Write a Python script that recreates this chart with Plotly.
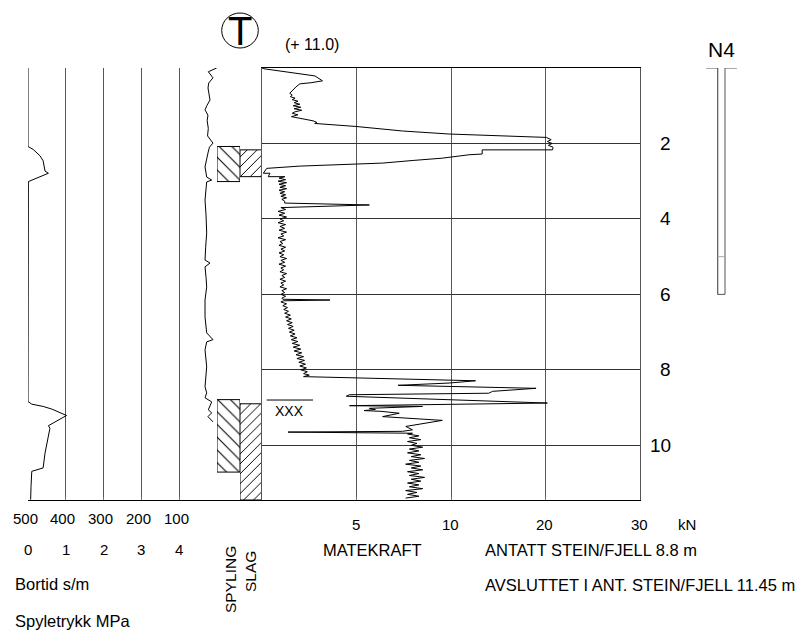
import numpy as np
import plotly.graph_objects as go

# ---------------- data ----------------
# Main curve: matekraft (kN) vs depth (m)
main_depth = [0.00, 0.02, 0.21, 0.34, 0.39, 0.42, 0.50, 0.58, 0.67, 0.72, 0.76, 0.80, 0.84, 0.88, 0.92, 0.96,
              1.00, 1.04, 1.08, 1.12, 1.16, 1.20, 1.24, 1.29, 1.40, 1.44, 1.47, 1.55, 1.67, 1.75, 1.84, 1.90,
              1.95, 2.00, 2.05, 2.10, 2.17, 2.17, 2.28, 2.30, 2.39, 2.45, 2.52, 2.60, 2.66, 2.79, 2.79, 2.88,
              2.88, 2.92, 2.96, 3.00, 3.04, 3.08, 3.12, 3.16, 3.20, 3.24, 3.28, 3.32, 3.36, 3.40, 3.44, 3.48,
              3.53, 3.58, 3.63, 3.70,
              3.75, 3.80, 3.85, 3.90, 3.95, 4.00, 4.05, 4.10, 4.15, 4.20, 4.25, 4.30, 4.35, 4.40, 4.45, 4.50,
              4.55, 4.60, 4.65, 4.70, 4.75, 4.80, 4.85, 4.90, 4.95, 5.00, 5.05, 5.10, 5.15, 5.20, 5.25, 5.30,
              5.35, 5.40, 5.45, 5.50, 5.55, 5.60, 5.65, 5.70, 5.75, 5.80, 5.85, 5.90, 5.95, 6.00, 6.05, 6.10,
              6.13, 6.15, 6.17,
              6.20, 6.25, 6.30, 6.35, 6.40, 6.45, 6.50, 6.55, 6.60, 6.65, 6.70, 6.75, 6.80, 6.85, 6.90, 6.95,
              7.00, 7.05, 7.10, 7.15, 7.20, 7.25, 7.30, 7.35, 7.40, 7.45, 7.50, 7.55, 7.60, 7.65, 7.70, 7.75,
              7.80, 7.85, 7.90, 7.95, 8.00, 8.05, 8.10,
              8.14, 8.18, 8.29, 8.35, 8.41, 8.49, 8.57, 8.62, 8.66, 8.70, 8.88, 8.95, 8.97, 9.02, 9.05, 9.08,
              9.10, 9.15, 9.24, 9.34, 9.50, 9.59, 9.63, 9.65, 9.68,
              9.70, 9.75, 9.80, 9.85, 9.90, 9.95, 10.00, 10.05, 10.10, 10.15, 10.20, 10.25, 10.30, 10.35,
              10.40, 10.45, 10.50, 10.55, 10.60, 10.65, 10.70, 10.75, 10.80, 10.85, 10.90, 10.95, 11.00,
              11.05, 11.10, 11.15, 11.20, 11.25, 11.30, 11.35, 11.40]
main_kn = [0.0, 0.1, 2.8, 3.2, 2.6, 2.0, 1.8, 1.65, 1.47, 1.6, 1.5, 1.75, 1.6, 1.9, 1.7, 2.0,
           1.65, 2.05, 1.7, 2.1, 1.75, 1.6, 1.9, 1.56, 2.7, 2.9, 2.79, 4.98, 7.44, 9.9, 20.1, 20.6,
           20.2, 20.7, 20.3, 20.8, 20.75, 13.3, 13.3, 11.9, 9.54, 8.0, 6.38, 2.0, 0.25, 0.07, 0.42, 0.33,
           1.21, 0.9, 1.25, 0.85, 1.3, 0.9, 1.25, 0.95, 1.3, 0.9, 1.2, 0.95, 1.25, 1.0, 1.3, 1.05,
           1.2, 1.2, 5.68, 1.0,
           1.25, 0.85, 1.2, 0.9, 1.3, 0.95, 1.15, 0.85, 1.25, 0.95, 1.2, 0.9, 1.3, 1.0, 1.15, 0.85,
           1.25, 0.95, 1.1, 0.9, 1.25, 1.0, 1.2, 0.9, 1.15, 0.95, 1.3, 1.0, 1.2, 0.9, 1.25, 1.0,
           1.15, 0.95, 1.3, 1.05, 1.2, 0.95, 1.25, 1.0, 1.15, 0.95, 1.3, 1.05, 1.2, 1.0, 1.25, 1.05,
           1.1, 3.6, 1.15,
           1.0, 1.3, 1.1, 1.35, 1.15, 1.4, 1.2, 1.5, 1.25, 1.55, 1.3, 1.6, 1.35, 1.65, 1.4, 1.7,
           1.45, 1.75, 1.5, 1.85, 1.55, 1.9, 1.6, 2.0, 1.65, 2.05, 1.7, 2.1, 1.8, 2.2, 1.85, 2.25,
           1.95, 2.3, 2.0, 2.35, 2.05, 2.4, 2.2,
           2.5, 2.2, 12.6, 9.9, 7.2, 19.0, 14.4, 14.0, 4.63, 4.46, 20.2, 4.63, 8.49, 5.68, 6.0, 5.4,
           6.3, 7.26, 6.38, 9.54, 7.61, 7.96, 7.44, 1.38, 7.96,
           7.7, 8.3, 7.8, 8.4, 7.7, 8.2, 7.9, 8.5, 7.8, 8.3, 7.7, 8.4, 7.9, 8.6,
           7.8, 8.3, 7.6, 8.4, 7.9, 8.5, 7.7, 8.3, 7.8, 8.6, 7.9, 8.4, 7.7,
           8.3, 7.8, 8.5, 7.6, 8.2, 7.7, 8.3, 7.6]

# Bortid (s/m) vs depth
bortid_depth = [0.00, 0.10, 0.26, 0.40, 0.53, 0.70, 0.85, 1.00, 1.11, 1.25, 1.40, 1.60, 1.80, 1.99, 2.10,
                2.25, 2.45, 2.62, 2.89, 2.97, 3.02, 3.50, 3.90, 4.37, 4.75, 5.09, 5.17, 5.27, 5.55, 5.80,
                6.15, 6.60, 7.02, 7.20, 7.26, 7.47, 7.92, 8.20, 8.45, 8.61, 8.74, 8.85, 9.06, 9.14, 9.24, 9.38]
bortid_val = [0.8, 23.0, 10.6, 22.0, 23.8, 20.0, 18.5, 27.0, 31.7, 24.0, 26.0, 23.0, 25.0, 10.6, 20.0,
              23.8, 28.0, 31.7, 27.3, 14.0, 27.3, 31.7, 29.0, 27.3, 30.0, 31.7, 18.5, 31.7, 29.0, 27.3,
              31.7, 31.7, 27.3, 10.6, 27.3, 31.7, 27.3, 29.0, 31.7, 27.3, 31.7, 14.0, 23.0, 14.0, 23.8, 10.6]

# Spyletrykk (MPa) vs depth
spyle_depth = [0.00, 2.08, 2.16, 2.33, 2.46, 2.73, 2.79, 3.01, 8.84, 8.91, 8.97, 9.04, 9.21, 9.48, 9.55,
               9.77, 10.21, 10.60, 10.69, 11.09, 11.44]
spyle_val = [0.0, 0.0, 0.14, 0.32, 0.40, 0.45, 0.54, 0.01, 0.0, 0.10, 0.40, 0.63, 1.02, 0.54, 0.58,
             0.54, 0.45, 0.40, 0.10, 0.08, 0.07]

# Spyling / slag intervals (m)
spyling_intervals = [(2.08, 3.01), (8.79, 10.71)]
slag_intervals = [(2.17, 2.88), (8.90, 11.45)]

total_depth = 11.45
rock_depth = 8.8
casing_depth = 6.0
casing_joint = 5.0

depth_ticks = [2, 4, 6, 8, 10]
kn_ticks = [5, 10, 20, 30]
kn_scale = [0, 5, 10, 20, 30]
bortid_ticks = [500, 400, 300, 200, 100]
spyle_ticks = [0, 1, 2, 3, 4]

# ---------------- helpers ----------------
W, H = 803, 635
def px(x):
    return x / W
def py(y):
    return 1 - y / H

FONT = "Liberation Sans, Arial, sans-serif"
GRID = "#555555"

def kn_to_axis(v):
    return np.interp(v, kn_scale, list(range(len(kn_scale))))

ydom = [py(500), py(68)]

fig = go.Figure()

# left panel curves
fig.add_trace(go.Scatter(x=[5 - b / 100 for b in bortid_val], y=bortid_depth, mode="lines",
                         line=dict(color="black", width=1), xaxis="x", yaxis="y"))
fig.add_trace(go.Scatter(x=spyle_val, y=spyle_depth, mode="lines",
                         line=dict(color="black", width=1), xaxis="x", yaxis="y"))

# hatched spyling / slag
for d0, d1 in spyling_intervals:
    fig.add_trace(go.Scatter(x=[0, 1, 1, 0, 0], y=[d0, d0, d1, d1, d0], mode="lines", fill="toself",
                             fillcolor="white",
                             fillpattern=dict(shape="\\", fgcolor="black", bgcolor="white", size=9,
                                              solidity=0.12, fgopacity=1),
                             line=dict(color="black", width=1), xaxis="x2", yaxis="y2"))
for d0, d1 in slag_intervals:
    fig.add_trace(go.Scatter(x=[0, 1, 1, 0, 0], y=[d0, d0, d1, d1, d0], mode="lines", fill="toself",
                             fillcolor="white",
                             fillpattern=dict(shape="/", fgcolor="black", bgcolor="white", size=7,
                                              solidity=0.14, fgopacity=1),
                             line=dict(color="black", width=1), xaxis="x3", yaxis="y3"))

# main curve
fig.add_trace(go.Scatter(x=kn_to_axis(main_kn), y=main_depth, mode="lines",
                         line=dict(color="black", width=1), xaxis="x4", yaxis="y4"))

hidden_y = dict(domain=ydom, range=[total_depth, 0], showgrid=False, showline=False,
                showticklabels=False, zeroline=False, ticks="")
fig.update_layout(
    width=W, height=H, margin=dict(l=0, r=0, t=0, b=0),
    paper_bgcolor="white", plot_bgcolor="rgba(0,0,0,0)", showlegend=False,
    xaxis=dict(domain=[px(28), px(217)], range=[0, 5], tickvals=[0, 1, 2, 3, 4, 5], showgrid=True,
               gridcolor=GRID, gridwidth=1, showline=True, linecolor="black", linewidth=1,
               showticklabels=False, zeroline=False, ticks="inside", ticklen=3, tickcolor="#777", anchor="y"),
    yaxis=dict(**hidden_y, anchor="x"),
    xaxis2=dict(domain=[px(217), px(240)], range=[0, 1], tickvals=[0, 1], showgrid=True, gridcolor=GRID,
                showline=True, linecolor="black", showticklabels=False, zeroline=False, ticks="", anchor="y2"),
    yaxis2=dict(**hidden_y, anchor="x2", matches="y"),
    xaxis3=dict(domain=[px(240), px(262)], range=[0, 1], tickvals=[0, 1], showgrid=True, gridcolor=GRID,
                showline=True, linecolor="black", showticklabels=False, zeroline=False, ticks="", anchor="y3"),
    yaxis3=dict(**hidden_y, anchor="x3", matches="y"),
    xaxis4=dict(domain=[px(262), px(640)], range=[0, 4], tickvals=[0, 1, 2, 3, 4], showgrid=True,
                gridcolor=GRID, gridwidth=1, showline=True, mirror=True, linecolor="black",
                showticklabels=False, zeroline=False, ticks="inside", ticklen=3, tickcolor="#777", anchor="y4"),
    yaxis4=dict(domain=ydom, range=[total_depth, 0], tickvals=depth_ticks, showgrid=True, gridcolor="#333333",
                gridwidth=1, showline=True, mirror=True, linecolor=GRID, showticklabels=False,
                zeroline=False, ticks="", anchor="x4", matches="y"),
)

shapes = []
# casing symbol N4
cl, cr = px(717.7), px(725)
shapes += [
    dict(type="line", xref="paper", yref="y4", x0=px(706), x1=cl, y0=0, y1=0, line=dict(color="#555", width=1)),
    dict(type="line", xref="paper", yref="y4", x0=cr, x1=px(737), y0=0, y1=0, line=dict(color="#555", width=1)),
    dict(type="line", xref="paper", yref="y4", x0=cl, x1=cl, y0=0, y1=casing_depth, line=dict(color="#555", width=1.2)),
    dict(type="line", xref="paper", yref="y4", x0=cr, x1=cr, y0=0, y1=casing_depth, line=dict(color="#555", width=1)),
    dict(type="line", xref="paper", yref="y4", x0=cl, x1=cr, y0=casing_depth, y1=casing_depth, line=dict(color="#555", width=1)),
    dict(type="line", xref="paper", yref="y4", x0=cl, x1=cr, y0=casing_joint, y1=casing_joint, line=dict(color="#aaa", width=1)),
]
# rock marker line
shapes.append(dict(type="line", xref="x4", yref="y4", x0=0.05, x1=0.54, y0=rock_depth, y1=rock_depth,
                   line=dict(color="black", width=1)))
# T circle
shapes.append(dict(type="circle", xref="paper", yref="paper", x0=px(221.7), x1=px(258.3), y0=py(48), y1=py(13),
                   line=dict(color="black", width=1)))
fig.update_layout(shapes=shapes)

ann = []
def txt(text, x, y, size=16.5, xanchor="center", xref="paper", yref="paper", **kw):
    ann.append(dict(text=text, x=x, y=y, xref=xref, yref=yref, showarrow=False, xanchor=xanchor,
                    yanchor="middle", font=dict(family=FONT, size=size, color="black"), **kw))

txt("T", px(240), py(31), size=40)
txt("(+ 11.0)", px(312), py(45), size=16)
txt("N4", px(721.5), py(49), size=21)
txt("XXX", 0.29, 9.1, size=14, xref="x4", yref="y4")
for d in depth_ticks:
    txt(str(d), px(673), d, size=19, xanchor="right", yref="y4")
for b in bortid_ticks:
    txt(str(b), 5 - b / 100, py(518), size=15, xref="x", xshift=-3)
for s in spyle_ticks:
    txt(str(s), s, py(549), size=15, xref="x")
for k in kn_ticks:
    txt(str(k), float(kn_to_axis(k)), py(524), size=15, xref="x4", xshift=-1)
txt("kN", px(687), py(524), size=15)
txt("MATEKRAFT", px(372), py(550))
txt("ANTATT STEIN/FJELL %.1f m" % rock_depth, px(483), py(550), xanchor="left")
txt("AVSLUTTET I ANT. STEIN/FJELL %.2f m" % total_depth, px(483), py(585), xanchor="left")
txt("Bortid s/m", px(13), py(584), xanchor="left")
txt("Spyletrykk MPa", px(13), py(621), xanchor="left")
txt("SPYLING", px(230), py(579), size=15.5, textangle=-90)
txt("SLAG", px(250), py(572), size=15.5, textangle=-90)
fig.update_layout(annotations=ann)

fig.write_html("out.html", config={"displayModeBar": False},
               post_script="document.body.style.margin='0px';document.body.style.overflow='hidden';")
